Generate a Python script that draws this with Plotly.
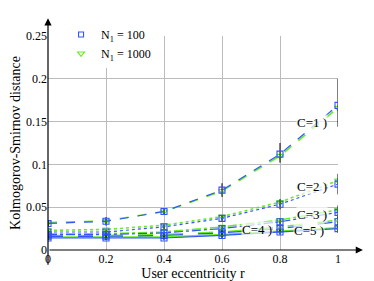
import plotly.graph_objects as go

r = [0, 0.2, 0.4, 0.6, 0.8, 1.0]
labels = ["C=1", "C=2", "C=3", "C=4", "C=5"]

n100 = {
    "C=1": [0.031, 0.0335, 0.045, 0.070, 0.112, 0.169],
    "C=2": [0.021, 0.021, 0.027, 0.037, 0.0535, 0.077],
    "C=3": [0.018, 0.018, 0.020, 0.025, 0.033, 0.044],
    "C=4": [0.016, 0.016, 0.017, 0.020, 0.025, 0.033],
    "C=5": [0.014, 0.014, 0.014, 0.017, 0.021, 0.025],
}
n1000 = {
    "C=1": [0.032, 0.034, 0.045, 0.069, 0.110, 0.166],
    "C=2": [0.023, 0.024, 0.029, 0.039, 0.056, 0.081],
    "C=3": [0.019, 0.019, 0.021, 0.027, 0.035, 0.047],
    "C=4": [0.017, 0.017, 0.018, 0.021, 0.027, 0.035],
    "C=5": [0.015, 0.015, 0.015, 0.018, 0.022, 0.026],
}
err_plus = {
    "C=1": [0.003, 0.005, 0.004, 0.008, 0.013, 0.031],
    "C=2": [0.002, 0.003, 0.003, 0.004, 0.006, 0.012],
    "C=3": [0.002, 0.002, 0.002, 0.003, 0.004, 0.008],
    "C=4": [0.002, 0.002, 0.002, 0.003, 0.004, 0.006],
    "C=5": [0.002, 0.002, 0.002, 0.003, 0.003, 0.005],
}
err_minus = {
    "C=1": [0.003, 0.005, 0.004, 0.008, 0.010, 0.025],
    "C=2": [0.002, 0.003, 0.003, 0.004, 0.006, 0.012],
    "C=3": [0.002, 0.002, 0.002, 0.003, 0.004, 0.008],
    "C=4": [0.002, 0.002, 0.002, 0.003, 0.004, 0.006],
    "C=5": [0.002, 0.002, 0.002, 0.003, 0.003, 0.005],
}
dashes = {"C=1": "dash", "C=2": "dot", "C=3": "dashdot", "C=4": "longdash", "C=5": "solid"}
label_pos = {
    "C=1": (0.91, 0.149),
    "C=2": (0.91, 0.074),
    "C=3": (0.91, 0.041),
    "C=4": (0.72, 0.024),
    "C=5": (0.90, 0.023),
}

BLUE = "#3355ff"
GREEN = "#66ee22"
FONT = "Liberation Serif, DejaVu Serif, serif"

fig = go.Figure()
for i, c in enumerate(labels):
    fig.add_trace(go.Scatter(
        x=r, y=n1000[c], mode="lines+markers",
        line=dict(color=GREEN, width=1.6, dash=dashes[c]),
        marker=dict(symbol="triangle-down-open", size=6, color=GREEN, line=dict(width=1.1)),
        showlegend=False,
    ))
for i, c in enumerate(labels):
    fig.add_trace(go.Scatter(
        x=r, y=n100[c], mode="lines+markers",
        line=dict(color=BLUE, width=1.2, dash=dashes[c]),
        marker=dict(symbol="square-open", size=6, color=BLUE, line=dict(width=1.1)),
        error_y=dict(type="data", symmetric=False, array=err_plus[c], arrayminus=err_minus[c],
                     color="black", thickness=1, width=0),
        showlegend=False,
    ))

# legend entries (markers only)
fig.add_trace(go.Scatter(x=[None], y=[None], mode="markers",
                         marker=dict(symbol="square-open", size=5, color=BLUE, line=dict(width=1.1)),
                         name="N<sub>1</sub> = 100"))
fig.add_trace(go.Scatter(x=[None], y=[None], mode="markers",
                         marker=dict(symbol="triangle-down-open", size=6, color=GREEN, line=dict(width=1.1)),
                         name="N<sub>1</sub> = 1000"))

for c in labels:
    x, y = label_pos[c]
    fig.add_annotation(x=x, y=y, xref="x", yref="y", text=c + " )", showarrow=False,
                       font=dict(family=FONT, size=13, color="black"),
                       bgcolor="rgba(255,255,255,0.7)", borderpad=0)

# axis arrows
fig.add_annotation(x=1.086, y=0, xref="paper", yref="y", ax=-315, ay=0, axref="pixel", ayref="pixel",
                   text="", showarrow=True, arrowhead=2, arrowsize=1.2, arrowwidth=1.2, arrowcolor="black")
fig.add_annotation(x=0, y=1.083, xref="x", yref="paper", ax=0, ay=248, axref="pixel", ayref="pixel",
                   text="", showarrow=True, arrowhead=2, arrowsize=1.2, arrowwidth=1.2, arrowcolor="black")

# page body has an 8px margin, so the figure is shifted by 8px
fig.update_layout(
    width=366, height=273,
    margin=dict(l=40, r=36, t=13, b=31),
    paper_bgcolor="white", plot_bgcolor="white",
    font=dict(family=FONT, size=12, color="black"),
    legend=dict(x=0.045, y=1.075, xanchor="left", yanchor="top", bgcolor="white",
                font=dict(family=FONT, size=12), itemsizing="trace", itemwidth=30,
                tracegroupgap=0, borderwidth=0),
    xaxis=dict(range=[0, 1], tickvals=[0, 0.2, 0.4, 0.6, 0.8, 1], ticktext=["0", "0.2", "0.4", "0.6", "0.8", "1"],
               showgrid=True, gridcolor="#bbbbbb", gridwidth=1, zeroline=False, showline=False,
               ticks="", automargin=False,
               title=dict(text="User eccentricity r", standoff=0, font=dict(size=14)),
               tickfont=dict(size=12)),
    yaxis=dict(range=[0, 0.25], tickvals=[0, 0.05, 0.1, 0.15, 0.2, 0.25],
               ticktext=["0", "0.05", "0.1", "0.15", "0.2", "0.25"],
               showgrid=True, gridcolor="#bbbbbb", gridwidth=1, zeroline=False, showline=False,
               ticks="", automargin=False,
               title=dict(text="Kolmogorov-Smirnov distance", standoff=2, font=dict(size=14)),
               tickfont=dict(size=12)),
)

fig.write_html("out.html")
